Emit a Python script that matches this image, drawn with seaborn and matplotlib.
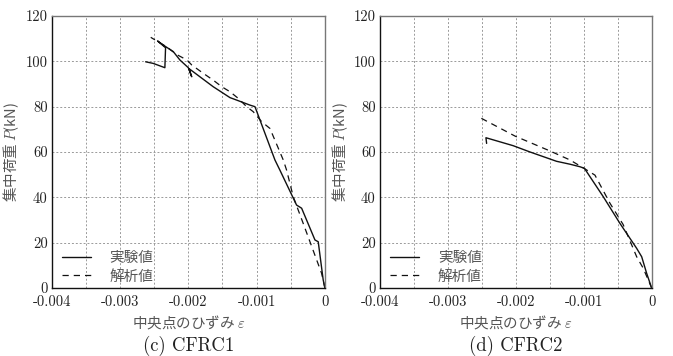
import matplotlib
matplotlib.use("Agg")
import matplotlib.pyplot as plt
import seaborn as sns
import numpy as np

# ---- data (strain, load kN) ----
c1_exp_x = [0.0, -0.000025, -0.000098, -0.000146, -0.000341, -0.000415, -0.000659, -0.000732,
            -0.001024, -0.001098, -0.001318, -0.00139, -0.001635, -0.00199, -0.00195,
            -0.00200, -0.002123, -0.00222, -0.002367, -0.00245, -0.002333, -0.002343,
            -0.002514, -0.002625]
c1_exp_y = [0.0, 3.5, 20.4, 21.2, 35.2, 36.6, 52.0, 56.5,
            80.0, 80.7, 83.2, 84.0, 88.8, 96.8, 93.2,
            97.2, 100.6, 104.3, 107.2, 109.0, 106.0, 97.2,
            99.1, 99.8]
c1_ana_x = [0.0, -0.000049, -0.000318, -0.000464, -0.000561, -0.00061, -0.000805, -0.000927,
            -0.00105, -0.001146, -0.00127, -0.00139, -0.00151, -0.001635, -0.00178,
            -0.00195, -0.00202, -0.00217, -0.002318, -0.00255]
c1_ana_y = [0.0, 6.5, 28.5, 40.3, 52.0, 56.5, 70.4, 73.4,
            77.8, 80.0, 83.7, 86.6, 88.8, 91.7, 94.7,
            98.4, 100.6, 103.0, 106.4, 110.6]

c2_exp_x = [0.0, -0.000074, -0.000147, -0.000221, -0.000467, -0.000713, -0.000990, -0.001056,
            -0.0012, -0.0014, -0.00179, -0.00204, -0.00244, -0.00243]
c2_exp_y = [0.0, 6.5, 13.8, 17.5, 28.5, 40.3, 52.8, 53.5,
            54.6, 55.9, 60.0, 62.8, 66.3, 63.8]
c2_ana_x = [0.0, -0.000124, -0.000221, -0.00042, -0.000614, -0.000835, -0.001007, -0.001203,
            -0.0015, -0.00201, -0.002554]
c2_ana_y = [0.0, 8.7, 13.8, 28.0, 37.4, 49.8, 53.0, 56.5,
            60.5, 67.0, 75.6]

x_ticks = [-0.004, -0.003, -0.002, -0.001, 0.0]
x_ticklabels = ["-0.004", "-0.003", "-0.002", "-0.001", "0"]
y_ticks = [0, 20, 40, 60, 80, 100, 120]
series_labels = ["実験値", "解析値"]
captions = ["(c) CFRC1", "(d) CFRC2"]

sns.set_theme(style="white")
plt.rcParams["mathtext.fontset"] = "cm"
plt.rcParams["font.family"] = ["Noto Sans CJK JP", "DejaVu Sans"]

fig = plt.figure(figsize=(6.73, 3.56), dpi=100)
ax1 = fig.add_axes([0.0768, 0.191, 0.406, 0.764])
ax2 = fig.add_axes([0.5646, 0.191, 0.4037, 0.764])

serif = ["cmr10", "DejaVu Serif"]
jp_color = "#555555"

panels = [
    (ax1, c1_exp_x, c1_exp_y, c1_ana_x, c1_ana_y, captions[0]),
    (ax2, c2_exp_x, c2_exp_y, c2_ana_x, c2_ana_y, captions[1]),
]

for ax, ex, ey, axx, ayy, cap in panels:
    sns.lineplot(x=ex, y=ey, ax=ax, sort=False, estimator=None, color="#111111",
                 linewidth=1.0, label=series_labels[0])
    sns.lineplot(x=axx, y=ayy, ax=ax, sort=False, estimator=None, color="#111111",
                 linewidth=0.9, linestyle=(0, (5, 4)), label=series_labels[1])
    ax.set_xlim(-0.004, 0.0)
    ax.set_ylim(0, 120)
    ax.set_xticks(np.arange(-0.004, 0.00001, 0.0005), minor=True)
    ax.set_xticks(x_ticks)
    ax.set_xticklabels(x_ticklabels, fontfamily=serif, fontsize=10.5, color="#222222")
    ax.set_yticks(y_ticks)
    ax.set_yticklabels([str(v) for v in y_ticks], fontfamily=serif, fontsize=10.5, color="#222222")
    ax.grid(True, which="both", color="#9a9a9a", linestyle=(0, (2, 2)), linewidth=0.7)
    ax.tick_params(axis="both", which="both", length=0)
    ax.tick_params(axis="x", pad=5)
    ax.tick_params(axis="y", pad=3)
    for s in ["left", "bottom"]:
        ax.spines[s].set_color("#111111")
        ax.spines[s].set_linewidth(1.0)
    for s in ["top", "right"]:
        ax.spines[s].set_color("#777777")
        ax.spines[s].set_linewidth(1.0)
    ax.set_ylabel("集中荷重 $P$(kN)", fontsize=10.5, color=jp_color, labelpad=3)
    ax.set_xlabel("中央点のひずみ $\\varepsilon$", fontsize=10.5, color=jp_color, labelpad=4)
    leg = ax.legend(loc="lower left", bbox_to_anchor=(0.015, -0.005), frameon=False,
                    fontsize=10.5, handlelength=2.0, handletextpad=1.3, labelspacing=0.3,
                    borderaxespad=0.0, borderpad=0.4)
    for t in leg.get_texts():
        t.set_color(jp_color)
    ax.text(0.5, -0.213, cap, transform=ax.transAxes, ha="center", va="center",
            fontfamily=serif, fontsize=13.5, color="#222222")

fig.savefig("out.png", dpi=100)
